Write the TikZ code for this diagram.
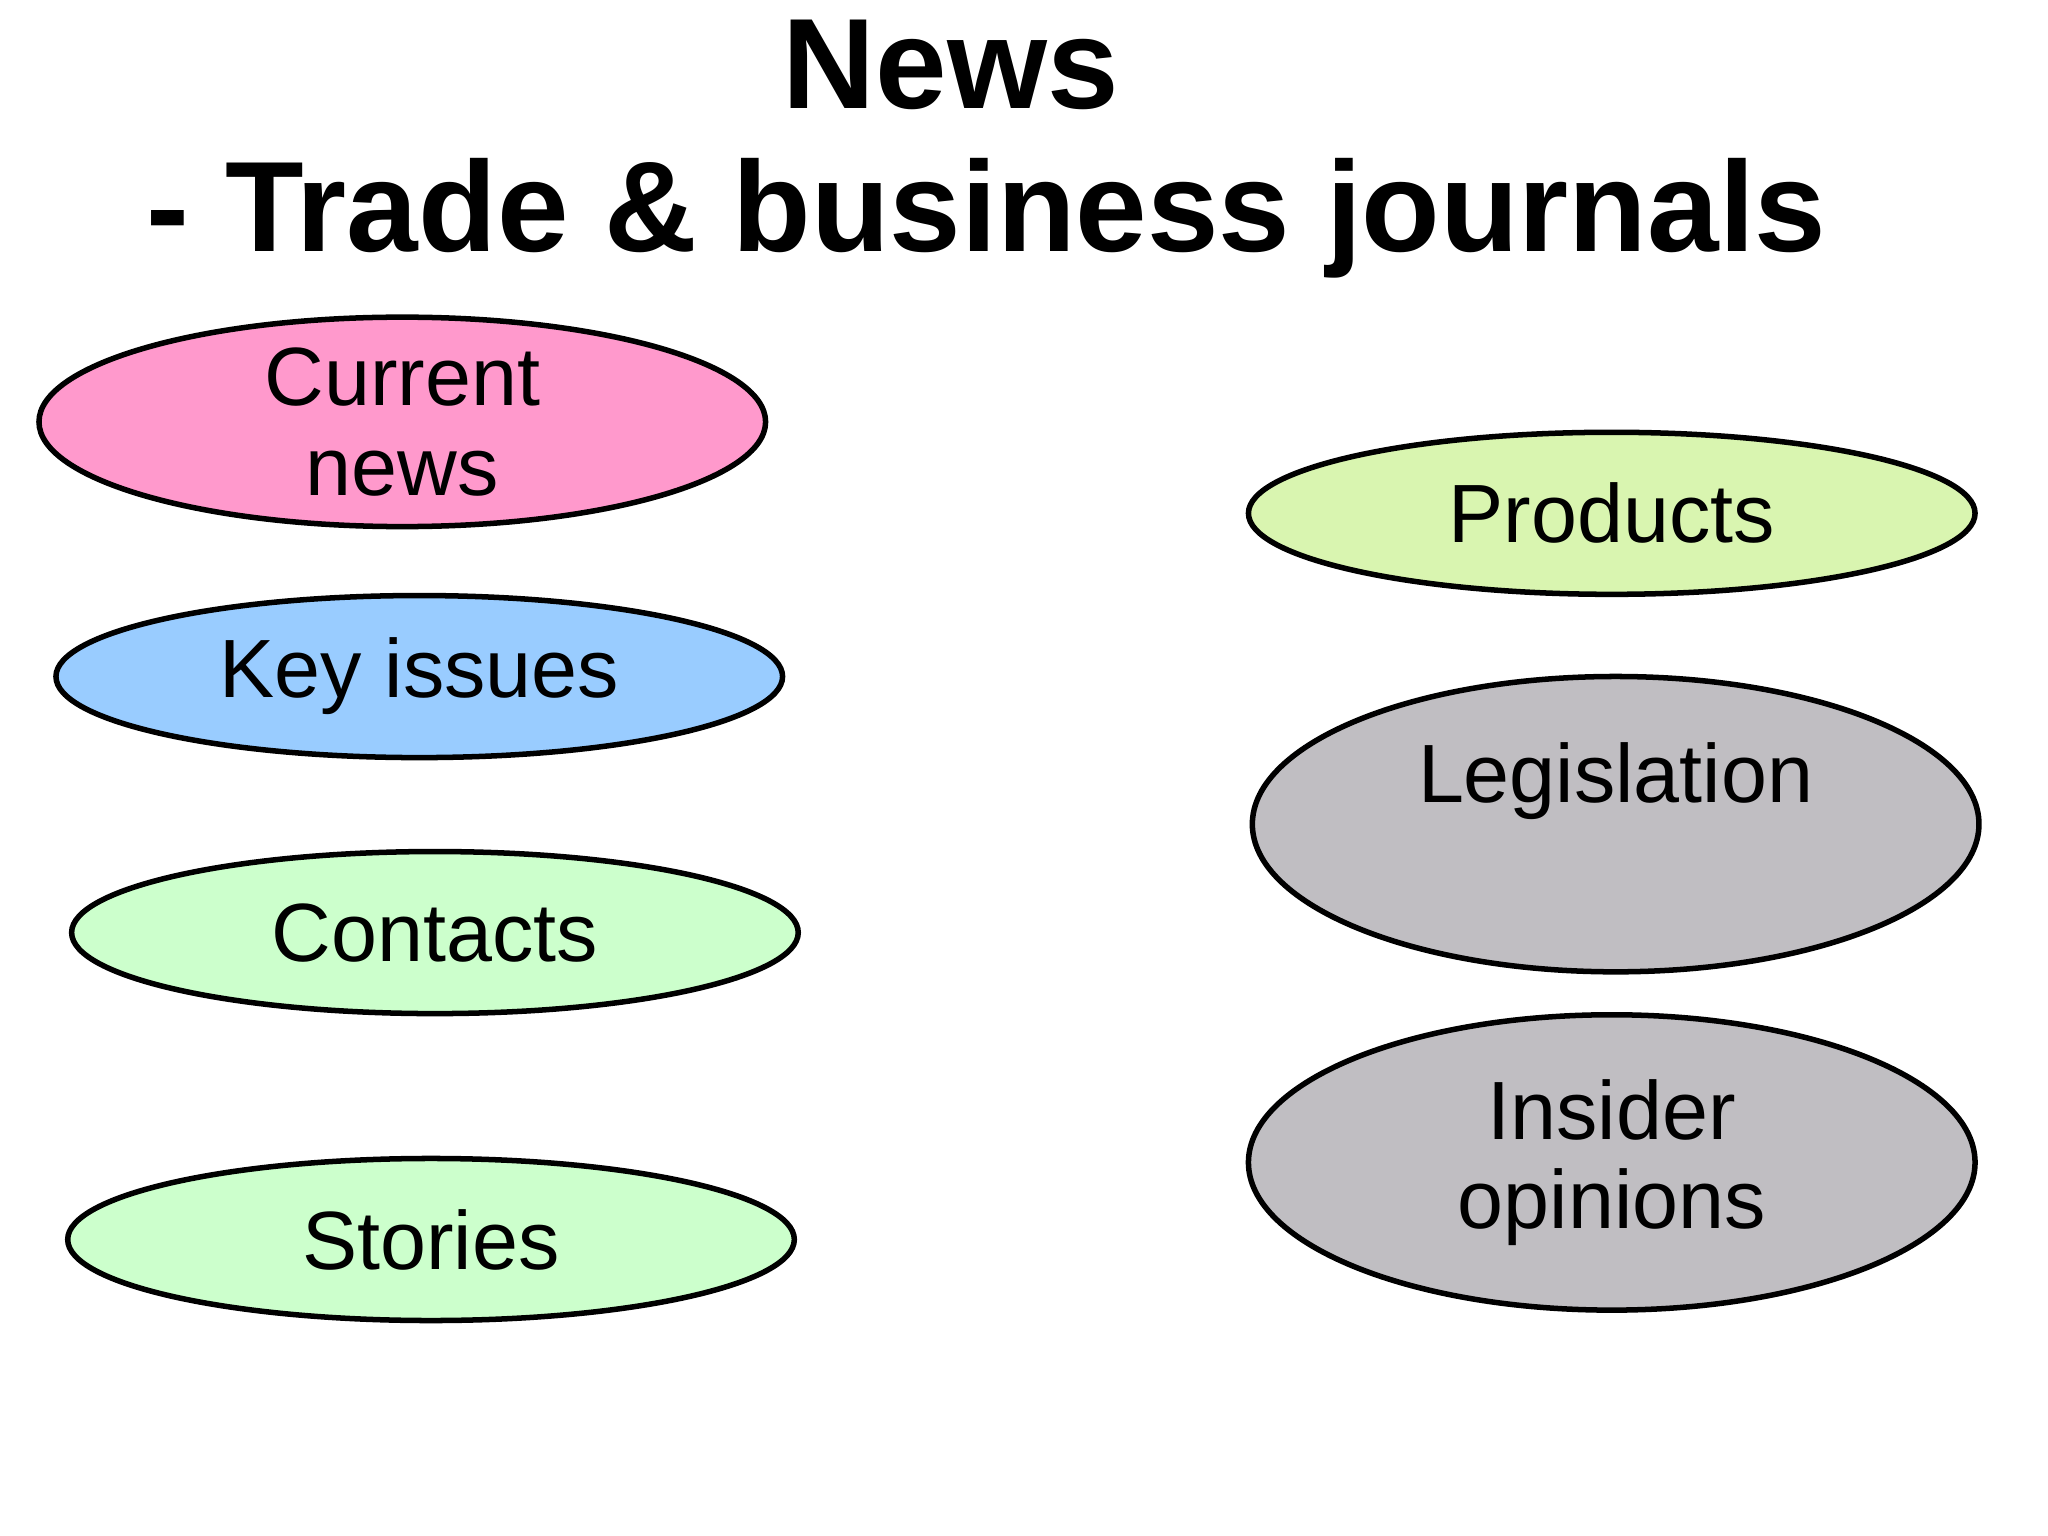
\documentclass[tikz,border=0pt]{standalone}
\usepackage{fontspec}
\setmainfont{Liberation Sans}
\usetikzlibrary{shapes.geometric}
\begin{document}
\begin{tikzpicture}[x=0.01cm,y=-0.01cm,
  oval/.style={ellipse,draw=black,line width=1.2pt,minimum width=556\pgflinewidth*0+5.56cm,inner sep=0pt,font=\fontsize{18}{19.5}\selectfont,align=center},
  small/.style={oval,minimum height=1.24cm},
  big/.style={oval,minimum height=2.26cm}]
\useasboundingbox (0,0) rectangle (1568,1176);
\fill[white] (0,0) rectangle (1568,1176);
\node[font=\fontsize{28}{30}\bfseries\selectfont] (t1) at (728,50) {News};
\node[font=\fontsize{28}{30}\bfseries\selectfont,anchor=west] (t2) at (100,167) {- Trade \& business journals};
\node[small,fill={rgb,255:red,255;green,153;blue,204}] (cn) at (308,323) {Current\\news};
\node[small,fill={rgb,255:red,153;green,204;blue,255}] (ki) at (321,518) {Key issues};
\node[small,fill={rgb,255:red,204;green,255;blue,204}] (co) at (333,714) {Contacts};
\node[small,fill={rgb,255:red,204;green,255;blue,204}] (st) at (330,949) {Stories};
\node[small,fill={rgb,255:red,217;green,245;blue,176}] (pr) at (1234,393) {Products};
\node[big,fill={rgb,255:red,192;green,190;blue,194}] (le) at (1237,631) {};
\node (let) at (1237,598) {\fontsize{18}{19.5}\selectfont Legislation};
\node[big,fill={rgb,255:red,192;green,190;blue,194}] (io) at (1234,890) {Insider\\opinions};
\end{tikzpicture}
\end{document}
